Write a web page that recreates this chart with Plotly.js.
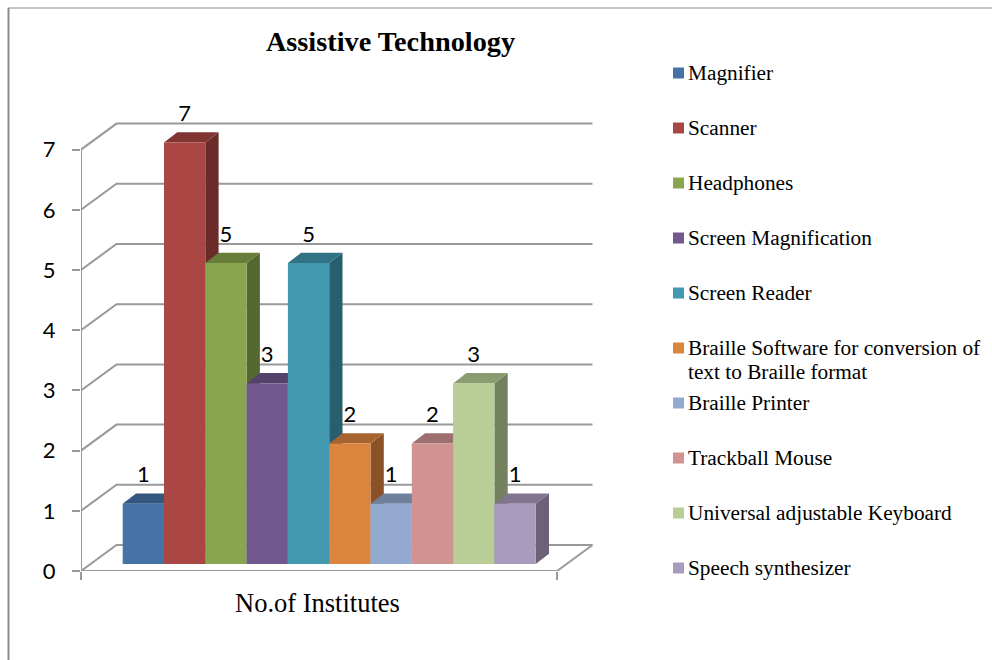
<!DOCTYPE html>
<html><head><meta charset="utf-8">
<script src="https://cdn.plot.ly/plotly-3.0.1.min.js"></script>
<style>html,body{margin:0;padding:0;background:#fff}#c{width:992px;height:660px}</style>
</head><body><div id="c"></div>
<script>
const categories=["Magnifier","Scanner","Headphones","Screen Magnification","Screen Reader","Braille Software for conversion of<br>text to Braille format","Braille Printer","Trackball Mouse","Universal adjustable Keyboard","Speech synthesizer"];
const institutes=[1,7,5,3,5,2,1,2,3,1];
const frontColors=["#4572A7","#AA4643","#89A54E","#71588F","#4198AF","#DB843D","#93A9CF","#D19392","#B9CD96","#A99BBD"];
const topColors=["#34567F","#813532","#677D3A","#55426C","#317385","#A6642E","#6F809D","#9E6F6F","#8C9C72","#80758F"];
const sideColors=["#2A4566","#6B2B29","#566832","#45365A","#285F6E","#8A5226","#5C6A82","#835C5C","#74815E","#6B6277"];
const yTicks=[0,1,2,3,4,5,6,7];
const legendRows=[73,128,183,238,293,348,403,458,513,568];
const xTitle="No.of Institutes";
const chartTitle="Assistive Technology";

const unitX=41.3,unitY=60.2,plotW=520,plotH=460,left=81,bottom=89;
const frontW=476/unitX;
const xMax=plotW/unitX,yMax=plotH/unitY;
const wallDX=35.5/unitX,wallDY=26/unitY;   // depth of the floor/back wall
const barDX=13.3/unitX,barDY=10.3/unitY;   // depth of each column
const barStart=(122.7-left)/unitX,barBase=7/unitY;
const gridColor="#999999";
const serif="Liberation Serif, Times New Roman, serif";

const px=v=>(v-left)/plotW, py=v=>(660-bottom-v)/plotH;

let gx=[],gy=[];
yTicks.forEach(k=>{gx.push(0,wallDX,frontW+wallDX,null);gy.push(k,k+wallDY,k+wallDY,null);});
gx.push(0,frontW,frontW+wallDX,null,0,0);gy.push(0,0,wallDY,null,0,yTicks[yTicks.length-1]);

const traces=[{type:"scatter",mode:"lines",x:gx,y:gy,line:{color:gridColor,width:2},hoverinfo:"skip",showlegend:false}];

institutes.forEach((v,i)=>{
  const l=barStart+i,r=l+1,b=barBase;
  traces.push({type:"scatter",mode:"lines",fill:"toself",fillcolor:sideColors[i],line:{width:0,color:sideColors[i]},
    x:[r,r+barDX,r+barDX,r,r],y:[b,b+barDY,b+barDY+v,b+v,b],hoverinfo:"skip",showlegend:false});
});
institutes.forEach((v,i)=>{
  const l=barStart+i,r=l+1,t=barBase+v;
  traces.push({type:"scatter",mode:"lines",fill:"toself",fillcolor:topColors[i],line:{width:0,color:topColors[i]},
    x:[l,l+barDX,r+barDX,r,l],y:[t,t+barDY,t+barDY,t,t],hoverinfo:"skip",showlegend:false});
});
institutes.forEach((v,i)=>{
  traces.push({type:"bar",name:categories[i].replace("<br>"," "),x:[barStart+i+0.5],y:[v],base:[barBase],width:[1],xaxis:"x2",yaxis:"y2",
    marker:{color:frontColors[i],line:{width:0}},showlegend:false});
});
traces.push({type:"scatter",mode:"text",x:institutes.map((v,i)=>barStart+i+0.5),y:institutes.map(v=>barBase+v+27/unitY),
  text:institutes.map(String),textposition:"middle center",textfont:{family:"Lato, Carlito, sans-serif",size:22,color:"#000"},
  xaxis:"x2",yaxis:"y2",cliponaxis:false,hoverinfo:"skip",showlegend:false});

const annotations=[{xref:"x",yref:"paper",x:frontW/2-1.5/unitX,y:py(603),text:xTitle,showarrow:false,xanchor:"center",yanchor:"middle",
  font:{family:serif,size:26.5,color:"#000"}}];
const shapes=[
  {type:"line",xref:"paper",yref:"paper",x0:px(8.5),x1:px(8.5),y0:py(8),y1:py(660),line:{color:"#8c8c8c",width:2}},
  {type:"line",xref:"paper",yref:"paper",x0:px(8),x1:px(992),y0:py(8),y1:py(8),line:{color:"#8c8c8c",width:1}}
];
categories.forEach((name,i)=>{
  const rowY=legendRows[i];
  shapes.push({type:"rect",xref:"paper",yref:"paper",x0:px(673),x1:px(684),y0:py(rowY-5.5),y1:py(rowY+5.5),
    fillcolor:frontColors[i],line:{width:0}});
  name.split("<br>").forEach((line,j)=>{
    annotations.push({xref:"paper",yref:"paper",x:px(686),y:py(rowY+j*24),text:line,showarrow:false,xanchor:"left",yanchor:"middle",
      font:{family:serif,size:21.3,color:"#000"}});
  });
});

const layout={
  width:992,height:660,autosize:false,paper_bgcolor:"#fff",plot_bgcolor:"rgba(0,0,0,0)",
  margin:{l:left,r:992-left-plotW,t:660-bottom-plotH,b:bottom,pad:0},
  barmode:"overlay",showlegend:false,
  title:{text:chartTitle,x:390.5/992,xanchor:"center",xref:"container",y:(660-41)/660,yanchor:"middle",yref:"container",
    font:{family:serif,size:28.3,color:"#000",weight:700}},
  xaxis:{range:[0,xMax],showgrid:false,zeroline:false,showline:false,
    tickmode:"array",tickvals:[0,frontW],ticktext:["",""],ticks:"outside",ticklen:8,tickwidth:2,tickcolor:gridColor,showticklabels:false},
  yaxis:{range:[0,yMax],showgrid:false,zeroline:false,showline:false,
    tickmode:"array",tickvals:yTicks,ticks:"outside",ticklen:8,tickwidth:2,tickcolor:gridColor,ticklabelstandoff:12,
    tickfont:{family:"Lato, Carlito, sans-serif",size:22,color:"#000"}},
  xaxis2:{overlaying:"x",range:[0,xMax],visible:false},
  yaxis2:{overlaying:"y",range:[0,yMax],visible:false},
  annotations:annotations,
  shapes:shapes
};
Plotly.newPlot("c",traces,layout,{displayModeBar:false,responsive:false});
</script></body></html>
